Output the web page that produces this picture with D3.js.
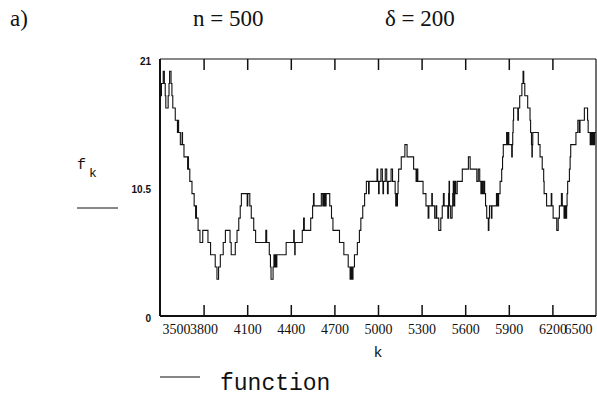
<!DOCTYPE html>
<html>
<head>
<meta charset="utf-8">
<script src="https://cdn.jsdelivr.net/npm/d3@7"></script>
<style>
  html, body { margin: 0; padding: 0; background: #fff; }
  svg { display: block; }
</style>
</head>
<body>
<svg id="chart" width="597" height="397"></svg>
<script>
// ---- data ----
const kSteps = [
  3500,3503,3510,3522,3530,3536,3540,3556,3562,3566,3576,3582,3588,3605,3620,3625,3628,3640,3652,3655,
  3665,3690,3693,3696,3705,3720,3735,3745,3748,3751,3762,3775,3794,3830,3848,3880,3892,3903,3915,3935,
  3950,3982,3990,4018,4030,4042,4052,4060,4100,4104,4118,4128,4145,4158,4228,4234,4252,4260,4264,4278,
  4284,4290,4293,4300,4304,4368,4420,4424,4427,4430,4479,4488,4493,4537,4550,4556,4560,4610,4620,4624,
  4630,4633,4640,4643,4668,4680,4690,4735,4765,4795,4808,4812,4815,4820,4824,4828,4838,4858,4872,4882,
  4895,4908,4920,4935,4939,4993,4998,5004,5008,5020,5030,5034,5038,5050,5060,5065,5070,5090,5100,5118,
  5122,5126,5130,5134,5138,5142,5160,5185,5200,5245,5262,5268,5274,5310,5330,5345,5350,5370,5374,5390,
  5400,5404,5418,5432,5442,5450,5455,5480,5486,5489,5492,5500,5510,5514,5518,5522,5528,5535,5545,5580,
  5622,5634,5680,5690,5700,5708,5714,5720,5728,5734,5740,5748,5759,5763,5767,5780,5784,5815,5818,5822,
  5826,5830,5840,5851,5857,5862,5885,5890,5895,5900,5920,5924,5927,5930,5933,5962,5966,5975,5990,5998,
  6003,6010,6030,6046,6050,6056,6059,6062,6065,6103,6115,6130,6140,6143,6160,6192,6196,6205,6230,6240,
  6248,6262,6268,6280,6286,6292,6298,6301,6305,6317,6322,6326,6362,6375,6385,6390,6420,6442,6446,6460,
  6465,6472,6478,6485,6490,6500
];
const fSteps = [
  17,18,19,20,19,18,17,18,19,20,19,18,17,16,15,16,15,14,15,14,
  13,12,13,12,11,10,9,8,9,8,7,6,7,6,5,4,3,4,5,6,
  7,6,5,6,7,8,9,10,9,10,9,8,7,6,7,6,5,4,3,4,
  5,4,5,4,5,6,7,6,5,6,7,8,7,8,9,10,9,10,9,10,
  9,10,9,10,9,8,7,6,5,4,3,4,3,4,3,4,5,6,7,8,
  9,10,11,10,11,12,11,10,11,12,11,10,11,12,11,10,11,12,11,10,
  9,10,9,10,11,12,13,14,13,12,11,12,11,10,9,8,9,10,9,8,
  9,8,7,8,9,10,9,8,10,11,9,8,9,10,11,9,11,10,11,12,
  13,12,11,12,11,10,11,10,11,10,9,8,7,8,9,8,9,10,9,10,
  9,10,11,12,13,14,15,14,15,14,13,14,15,16,17,16,17,18,19,20,
  19,18,17,16,15,14,13,14,15,14,13,12,11,10,9,10,9,8,7,8,
  9,10,9,8,9,8,9,10,11,12,13,14,15,16,15,16,17,16,15,14,
  15,14,15,14,15,15
];
const xTickValues = [3500,3800,4100,4400,4700,5000,5300,5600,5900,6200,6500];
const yTickValues = [0, 10.5, 21];
const yTickLabels = ["0", "10.5", "21"];
const titleTexts = ["a)", "n = 500", "\u03b4 = 200"];
const legendLabel = "function";

// ---- drawing ----
const svg = d3.select("#chart");
const pL = 160, pR = 596, pT = 59, pB = 316;

const x = d3.scaleLinear().domain([3500, 6500]).range([pL, pR]);
const y = d3.scaleLinear().domain([0, 21]).range([pB, pT]);

const pts = kSteps.map((k, i) => [k, fSteps[i]]);

// step line
svg.append("path")
  .datum(pts)
  .attr("fill", "none")
  .attr("stroke", "#111")
  .attr("stroke-width", 1.1)
  .attr("d", d3.line().x(d => x(d[0])).y(d => y(d[1])).curve(d3.curveStepAfter));

// bottom axis (ticks pointing inward)
const xAxis = d3.axisBottom(x)
  .tickValues(xTickValues)
  .tickSizeInner(-11)
  .tickSizeOuter(0)
  .tickPadding(8)
  .tickFormat(d => String(d));
const gx = svg.append("g").attr("transform", `translate(0,${pB})`).call(xAxis);
gx.select(".domain").remove();
gx.selectAll(".tick line").attr("stroke", "#111").attr("stroke-width", 1.5)
  .filter(d => d === 3500 || d === 6500).remove();
gx.selectAll(".tick text")
  .attr("font-family", "'Liberation Serif', 'Times New Roman', serif")
  .attr("font-size", 14)
  .attr("fill", "#111")
  .attr("text-anchor", d => d === 3500 ? "start" : d === 6500 ? "end" : "middle")
  .attr("dx", d => d === 3500 ? 2 : d === 6500 ? -4 : 0);

// top axis (ticks pointing inward, no labels)
const xAxisTop = d3.axisTop(x)
  .tickValues(xTickValues.filter(v => v !== 3500 && v !== 6500))
  .tickSizeInner(-11)
  .tickSizeOuter(0)
  .tickFormat("");
const gt = svg.append("g").attr("transform", `translate(0,${pT})`).call(xAxisTop);
gt.select(".domain").remove();
gt.selectAll(".tick line").attr("stroke", "#111").attr("stroke-width", 1.5);

// left axis labels
const yAxis = d3.axisLeft(y)
  .tickValues(yTickValues)
  .tickSize(0)
  .tickPadding(9)
  .tickFormat((d, i) => yTickLabels[i]);
const gy = svg.append("g").attr("transform", `translate(${pL},0)`).call(yAxis);
gy.select(".domain").remove();
gy.selectAll(".tick text")
  .attr("font-family", "'Liberation Sans', Arial, sans-serif")
  .attr("font-weight", "bold")
  .attr("font-size", 10)
  .attr("fill", "#111")
  .attr("dy", "0.5em");

// frame
svg.append("line").attr("x1", pL).attr("x2", pR).attr("y1", pT).attr("y2", pT)
  .attr("stroke", "#111").attr("stroke-width", 1.2);
svg.append("line").attr("x1", pL).attr("x2", pR).attr("y1", pB).attr("y2", pB)
  .attr("stroke", "#111").attr("stroke-width", 2);
svg.append("line").attr("x1", pL).attr("x2", pL).attr("y1", pT).attr("y2", pB)
  .attr("stroke", "#111").attr("stroke-width", 2);
svg.append("line").attr("x1", pR).attr("x2", pR).attr("y1", pT).attr("y2", pB)
  .attr("stroke", "#111").attr("stroke-width", 1.2);

// titles
const serif = "'Liberation Serif', 'Times New Roman', serif";
svg.append("text").attr("x", 10).attr("y", 26).attr("font-family", serif).attr("font-size", 23).attr("fill", "#111").text(titleTexts[0]);
svg.append("text").attr("x", 193).attr("y", 26).attr("font-family", serif).attr("font-size", 23).attr("fill", "#111").text(titleTexts[1]);
svg.append("text").attr("x", 385).attr("y", 26).attr("font-family", serif).attr("font-size", 23).attr("fill", "#111").text(titleTexts[2]);

// y label f_k with underline
const mono = "'Liberation Mono', 'Courier New', monospace";
svg.append("text").attr("x", 77).attr("y", 169).attr("font-family", mono).attr("font-size", 15).attr("fill", "#111").text("f");
svg.append("text").attr("x", 89).attr("y", 177).attr("font-family", mono).attr("font-size", 13).attr("fill", "#111").text("k");
svg.append("line").attr("x1", 77).attr("x2", 118).attr("y1", 208).attr("y2", 208).attr("stroke", "#111").attr("stroke-width", 1);

// x label
svg.append("text").attr("x", (pL + pR) / 2).attr("y", 357).attr("text-anchor", "middle")
  .attr("font-family", mono).attr("font-size", 15).attr("fill", "#111").text("k");

// legend
svg.append("line").attr("x1", 160).attr("x2", 200).attr("y1", 377).attr("y2", 377).attr("stroke", "#111").attr("stroke-width", 1.2);
svg.append("text").attr("x", 220).attr("y", 390).attr("font-family", mono).attr("font-size", 23).attr("fill", "#111").text(legendLabel);
</script>
</body>
</html>
